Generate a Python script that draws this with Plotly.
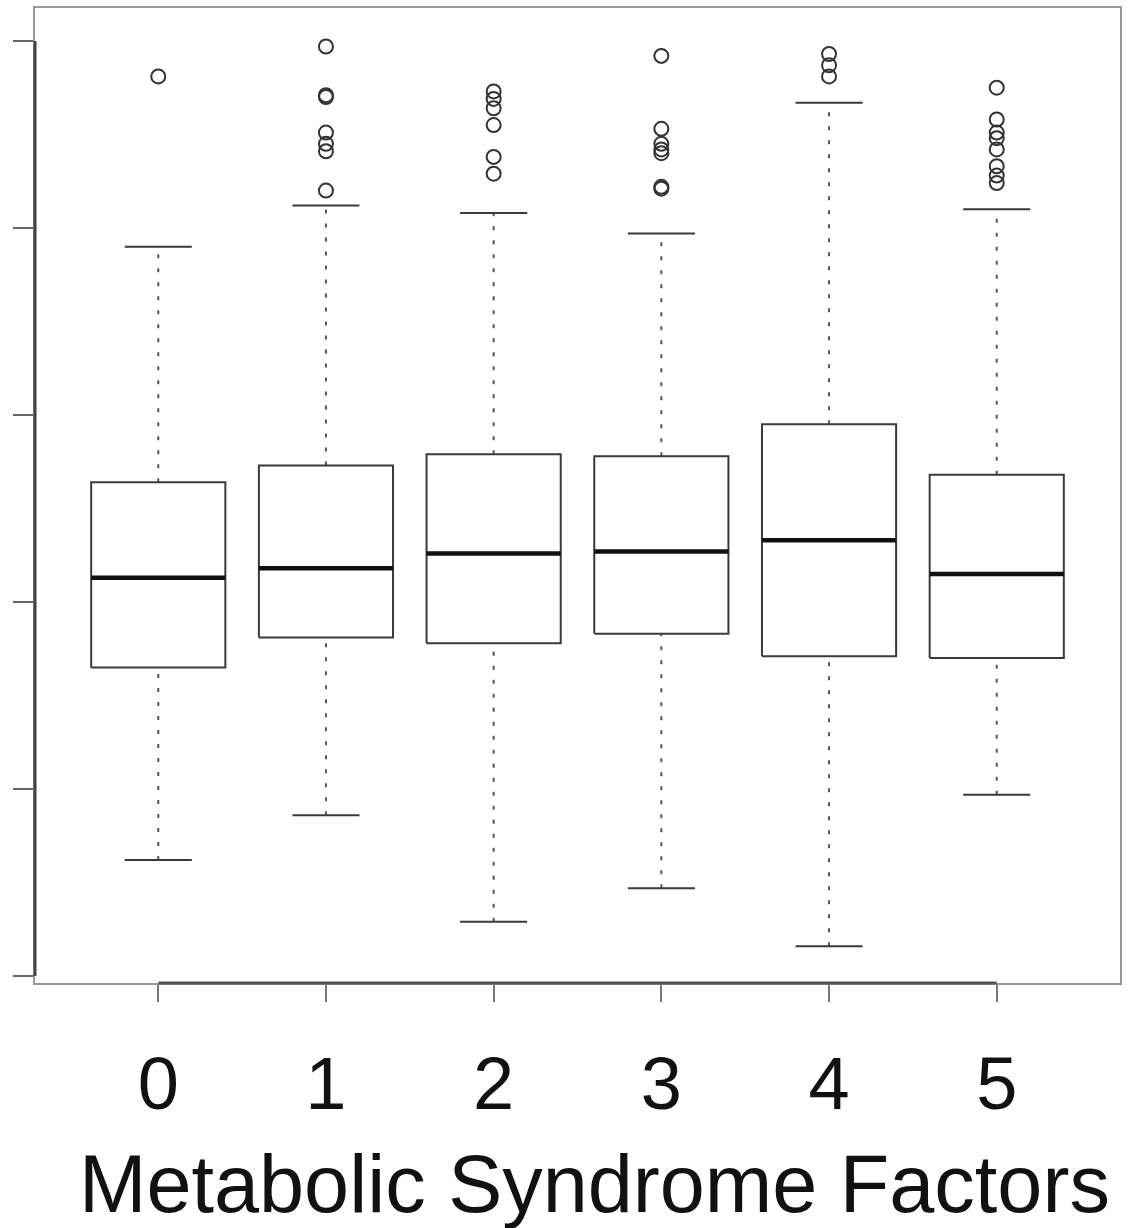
import plotly.graph_objects as go

categories = [0, 1, 2, 3, 4, 5]
tick_labels = ["0", "1", "2", "3", "4", "5"]
y_ticks = [0, 1, 2, 3, 4, 5]
x_title = "Metabolic Syndrome Factors"

lower_whisker = [0.62, 0.86, 0.29, 0.47, 0.16, 0.97]
q1 = [1.65, 1.81, 1.78, 1.83, 1.71, 1.70]
median = [2.13, 2.18, 2.26, 2.27, 2.33, 2.15]
q3 = [2.64, 2.73, 2.79, 2.78, 2.95, 2.68]
upper_whisker = [3.90, 4.12, 4.08, 3.97, 4.67, 4.10]
outliers = [
    [4.81],
    [4.97, 4.71, 4.70, 4.51, 4.45, 4.41, 4.20],
    [4.73, 4.69, 4.64, 4.55, 4.38, 4.29],
    [4.92, 4.53, 4.45, 4.42, 4.40, 4.22, 4.21],
    [4.93, 4.87, 4.81],
    [4.75, 4.58, 4.51, 4.48, 4.42, 4.33, 4.28, 4.24],
]

BOX_HALF = 0.4
CAP_HALF = 0.2
LINE_COL = "#3a3a3a"

box_x, box_y = [], []
med_x, med_y = [], []
wh_x, wh_y = [], []
cap_x, cap_y = [], []
out_x, out_y = [], []
for i, c in enumerate(categories):
    box_x += [c - BOX_HALF, c + BOX_HALF, c + BOX_HALF, c - BOX_HALF, c - BOX_HALF, None]
    box_y += [q1[i], q1[i], q3[i], q3[i], q1[i], None]
    med_x += [c - BOX_HALF, c + BOX_HALF, None]
    med_y += [median[i], median[i], None]
    wh_x += [c, c, None, c, c, None]
    wh_y += [lower_whisker[i], q1[i], None, q3[i], upper_whisker[i], None]
    cap_x += [c - CAP_HALF, c + CAP_HALF, None, c - CAP_HALF, c + CAP_HALF, None]
    cap_y += [lower_whisker[i], lower_whisker[i], None, upper_whisker[i], upper_whisker[i], None]
    out_x += [c] * len(outliers[i])
    out_y += outliers[i]

fig = go.Figure()
fig.add_trace(go.Scatter(x=wh_x, y=wh_y, mode="lines",
                         line=dict(color="#555", width=2, dash="4px,10px")))
fig.add_trace(go.Scatter(x=cap_x, y=cap_y, mode="lines",
                         line=dict(color=LINE_COL, width=2)))
fig.add_trace(go.Scatter(x=box_x, y=box_y, mode="lines",
                         line=dict(color=LINE_COL, width=2)))
fig.add_trace(go.Scatter(x=med_x, y=med_y, mode="lines",
                         line=dict(color="#111", width=4.5)))
fig.add_trace(go.Scatter(x=out_x, y=out_y, mode="markers",
                         marker=dict(symbol="circle-open", size=14, color="#333",
                                     line=dict(width=2, color="#333"))))

# darker axis lines spanning the tick range (R style)
fig.add_shape(type="line", xref="x", yref="paper", x0=categories[0], x1=categories[-1],
              y0=0, y1=0, line=dict(color="#555", width=3))
fig.add_shape(type="line", xref="paper", yref="y", x0=0, x1=0,
              y0=y_ticks[0], y1=y_ticks[-1], line=dict(color="#444", width=3))

fig.add_annotation(text=x_title, xref="paper", yref="paper", x=0.516, y=-0.206,
                   xanchor="center", yanchor="middle", showarrow=False,
                   font=dict(size=81, color="#111"))

fig.update_layout(
    width=1136, height=1228,
    margin=dict(l=35, r=16, t=6, b=245),
    paper_bgcolor="white", plot_bgcolor="white",
    showlegend=False,
    font=dict(family="Liberation Sans, Arial, sans-serif", color="#111"),
)
fig.update_xaxes(
    range=[-0.735, 5.735],
    tickmode="array", tickvals=categories, ticktext=tick_labels,
    ticks="outside", ticklen=17, tickwidth=2, tickcolor="#777",
    tickfont=dict(size=74, color="#111"),
    ticklabelstandoff=18,
    showline=True, mirror=True, linecolor="#999", linewidth=2,
    showgrid=False, zeroline=False,
)
fig.update_yaxes(
    range=[-0.037, 5.176],
    tickmode="array", tickvals=y_ticks,
    showticklabels=False,
    ticks="outside", ticklen=20, tickwidth=2, tickcolor="#666",
    showline=True, mirror=True, linecolor="#999", linewidth=2,
    showgrid=False, zeroline=False,
)

fig.write_html("out.html")
